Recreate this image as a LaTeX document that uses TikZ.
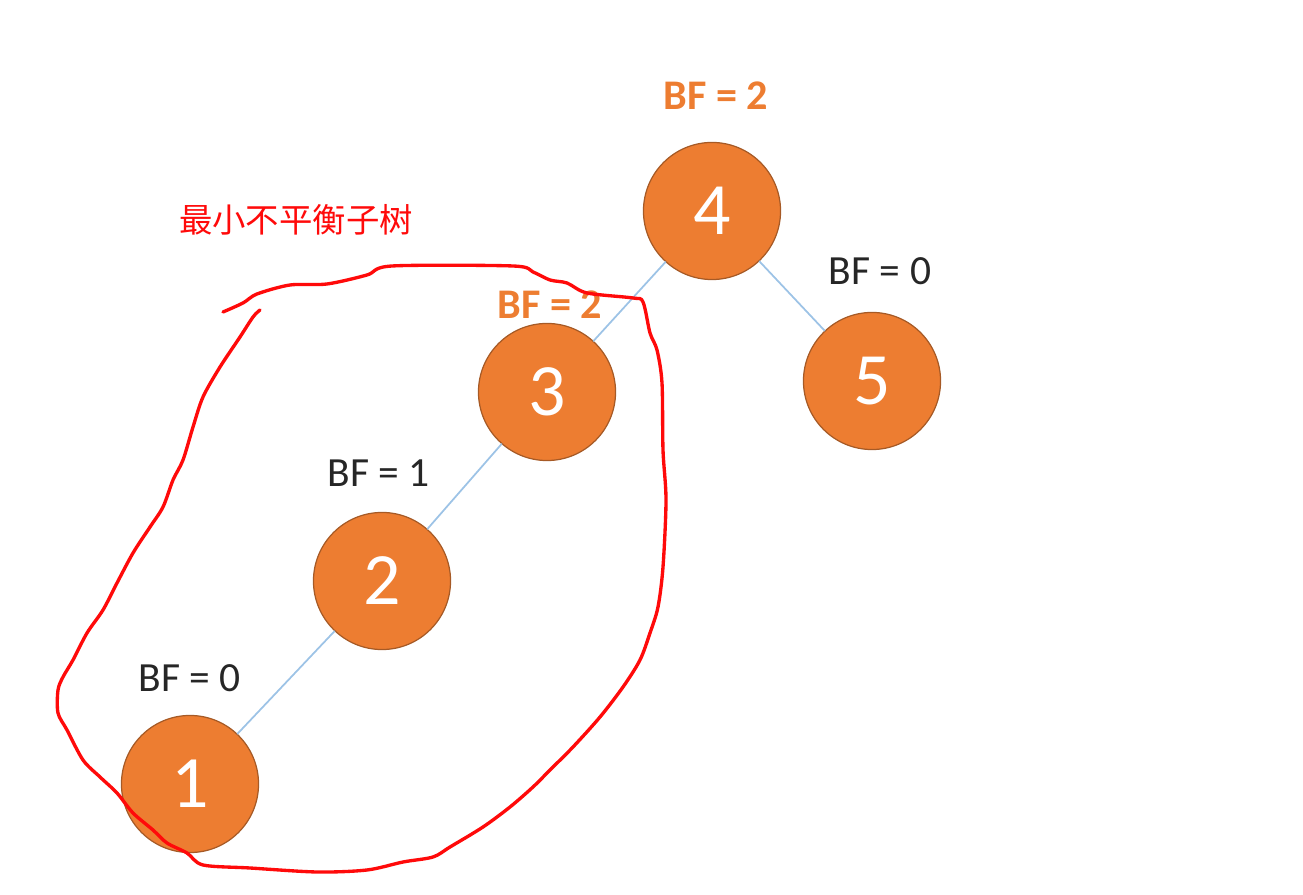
\documentclass[tikz,border=0pt]{standalone}
\usepackage{fontspec}
\setmainfont{Carlito}
\newfontfamily\cjk{Noto Sans CJK SC}
\usepackage{xcolor}
\usetikzlibrary{positioning}

\definecolor{nodeorange}{HTML}{ED7D31}
\definecolor{nodeedge}{HTML}{A65A26}
\definecolor{linkblue}{HTML}{9DC3E6}
\definecolor{markred}{HTML}{FF0A0A}

\begin{document}
\begin{tikzpicture}[x=0.01cm, y=-0.01cm, line join=round, line cap=round,
    treenode/.style={circle, fill=nodeorange, draw=nodeedge, line width=0.35pt,
      minimum size=1.37cm, inner sep=0pt, text=white,
      font=\fontsize{21}{21}\selectfont},
    bflabel/.style={font=\fontsize{11.8}{12}\selectfont, text=black!85},
    bfhot/.style={font=\bfseries\fontsize{12}{13}\selectfont, text=nodeorange},
    link/.style={draw=linkblue, line width=0.5pt}]

    \useasboundingbox (0,0) rectangle (1303,895);

    % Tree nodes
    \node[treenode] (n4) at (712,211) {4};
    \node[treenode] (n3) at (547,392) {3};
    \node[treenode] (n5) at (872,381) {5};
    \node[treenode] (n2) at (382,581) {2};
    \node[treenode] (n1) at (190,784) {1};

    % Edges
    \draw[link] (n4) -- (n3);
    \draw[link] (n4) -- (n5);
    \draw[link] (n3) -- (n2);
    \draw[link] (n2) -- (n1);

    % Balance factors
    \node[bfhot] (bf4) at (716,96) {BF = 2};
    \node[bfhot] (bf3) at (550,305) {BF = 2};
    \node[bflabel] (bf5) at (880,271) {BF = 0};
    \node[bflabel] (bf2) at (379,473) {BF = 1};
    \node[bflabel] (bf1) at (190,678) {BF = 0};

    % Caption of the marked subtree
    \node[text=markred, font=\cjk\fontsize{9.5}{10}\selectfont] (cap) at (296,220) {最小不平衡子树};

    % Hand-drawn loop round the subtree
    \draw[markred, line width=0.95pt] plot[smooth, tension=0.5] coordinates {
      (223,312) (243,303) (257,294) (290,285) (327,284) (367,275)
      (392,266) (513,266) (533,272) (550,280) (567,283) (587,293) (633,298)
      (643,302) (650,333) (657,350) (662,383) (663,450) (666,500) (663,567)
      (658,607) (650,633) (640,660) (623,687) (600,717) (573,747) (550,770)
      (533,787) (510,807) (483,827) (450,847) (433,857) (403,862) (367,870)
      (317,872) (250,868) (203,865) (187,853) (167,843) (153,830) (133,813)
      (117,793) (100,777) (83,760) (67,730) (58,713) (58,690) (63,677)
      (73,660) (87,633) (103,610) (117,583) (133,553) (150,527) (163,507)
      (173,480) (183,460) (193,427) (203,397) (220,367) (240,337) (253,317)
      (260,310)};
\end{tikzpicture}
\end{document}
